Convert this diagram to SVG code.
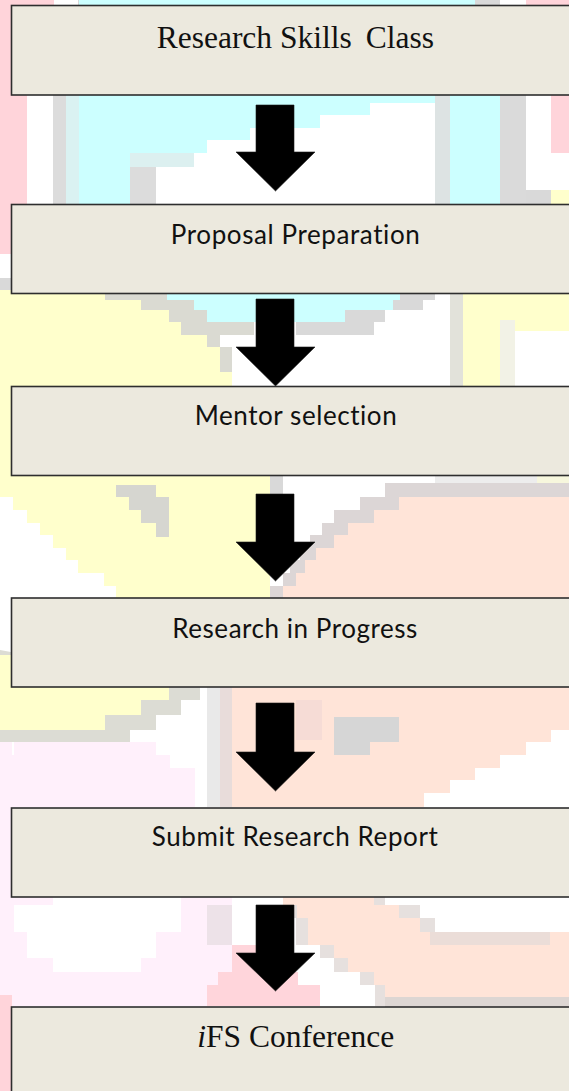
<svg xmlns="http://www.w3.org/2000/svg" width="569" height="1091" viewBox="0 0 569 1091">
<style>
.box{fill:#ECE9DE;stroke:#2E2E2E;stroke-width:1.6}
.sans{font-family:Lato,"Liberation Sans",sans-serif;font-size:26px;fill:#111;font-variant-ligatures:none}
.serif{font-family:"Liberation Serif","Times New Roman",serif;font-size:31.5px;fill:#111}
.arrow{fill:#000;stroke:#1a1a1a;stroke-width:0.6;stroke-linejoin:miter}
.pk{fill:#FFD4DA}.cy{fill:#CCFFFF}.ye{fill:#FFFFCC}.pe{fill:#FFE4D8}.lv{fill:#FFF0FB}.gr{fill:#D9D9D9}
</style>
<g id="background">
<rect width="569" height="1091" fill="#fff"/>
<path class="pk" d="M0 0H54V6H27V254H0Z"/>
<path class="pk" d="M526 0H569V153H551V6H526Z"/>
<rect class="gr" x="78" y="0" width="13" height="6"/>
<rect x="91" y="0" width="12" height="6" fill="#DDF6F6"/>
<path class="cy" d="M79 0H475V6H435V103H370V115H320V128H250V140H207V153H130V204H79Z"/>
<rect x="130" y="153" width="64" height="14" fill="#DCF0F0"/>
<rect x="130" y="167" width="26" height="37" fill="#DCDCDC"/>
<rect class="gr" x="475" y="0" width="25" height="6"/>
<rect x="53" y="95" width="13" height="109" fill="#DCDCDC"/>
<rect x="66" y="95" width="13" height="109" fill="#DAF2F2"/>
<rect x="435" y="95" width="15" height="109" fill="#DDE3E3"/>
<rect class="cy" x="450" y="95" width="50" height="109"/>
<rect x="500" y="95" width="26" height="109" fill="#DADADA"/>
<rect class="ye" x="551" y="190" width="18" height="14"/>
<rect class="gr" x="526" y="190" width="25" height="14"/>
<path d="M100 290H167V300H194V310H210V322H254V335H220V347H232V386H0Z" fill="#DADAD2"/>
<path class="gr" d="M399 290H435V300H423V310H385V322H374V335H296V322H345V310H393V300H399Z"/>
<path class="cy" d="M167 290H400V300H393V310H345V322H207V310H194V300H167Z"/>
<rect class="gr" x="0" y="278" width="12" height="12"/>
<path class="ye" d="M0 290H105V300H141V310H169V322H181V335H207V347H220V372H232V386H270V598H116V586H104V573H78V560H66V548H53V535H40V523H27V510H13V497H0Z"/>
<rect x="450" y="290" width="13" height="96" fill="#E2E2DA"/>
<rect class="ye" x="463" y="290" width="106" height="96"/>
<rect x="500" y="320" width="15" height="66" fill="#F2F2E6"/>
<rect x="515" y="331" width="54" height="55" fill="#fff"/>
<path d="M116 485H156V497H169V537H156V523H141V510H129V497H116Z" fill="#D6D6D0"/>
<rect class="gr" x="270" y="475" width="13" height="22"/>
<rect x="435" y="475" width="102" height="8" fill="#EDEDED"/>
<rect x="537" y="475" width="32" height="8" fill="#F7F7DD"/>
<path d="M385 483H569V497H399V510H374V523H348V535H334V548H316V560H305V573H296V586H283V598H270V586H283V573H290V560H300V548H310V535H322V523H334V510H360V497H385Z" fill="#DCD6D6"/>
<path class="pe" d="M399 497H569V598H283V586H296V573H305V560H316V548H334V535H348V523H374V510H399Z"/>
<path d="M0 650L200 687V700H181V715H156V730H130V742H0Z" fill="#DCDCD4"/>
<path class="ye" d="M0 655H12L169 687V700H141V715H105V730H0Z"/>
<rect class="lv" x="0" y="742" width="12" height="265"/>
<path class="lv" d="M14 742H156V755H170V768H195V807H0V755H14Z"/>
<rect x="207" y="687" width="13" height="120" fill="#E9E9E9"/>
<rect x="220" y="687" width="12" height="120" fill="#E8DCDA"/>
<path class="pe" d="M232 687H569V730H551V742H526V755H500V768H475V780H450V793H424V807H232Z"/>
<path d="M334 717H399V742H370V755H334Z" fill="#D6D6D6"/>
<rect x="296" y="700" width="26" height="40" fill="#F6DCD6"/>
<path class="lv" fill-rule="evenodd" d="M0 897H232V1006H0Z M53 897H181V932H156V958H141V972H53V958H27V932H14V905H53Z"/>
<rect x="207" y="905" width="25" height="40" fill="#EDE2E8"/>
<rect x="232" y="897" width="26" height="48" fill="#fff"/>
<path d="M232 945H258V972H298V985H320V1006H207V985H218V972H232Z" fill="#FFD5DB"/>
<path d="M283 897H385V905H420V918H435V932H569V1006H375V985H360V972H334V958H320V945H296V918H290V905H283Z" fill="#E6E0DE"/>
<path class="pe" d="M283 897H374V905H399V918H420V932H569V1006H385V985H374V972H348V958H334V945H308V918H297V905H283Z"/>
<rect x="430" y="932" width="120" height="13" fill="#EBDDD8"/>
<rect x="385" y="997" width="184" height="10" fill="#DDD6D3"/>
<rect class="pk" x="0" y="995" width="12" height="96"/>
</g>
<g id="connectors">
<path class="arrow" d="M256 105H294V152H315L275.5 191L236 152H256Z"/>
<path class="arrow" d="M256 299H294V347H315L275.5 386L236 347H256Z"/>
<path class="arrow" d="M256 494H294V542H315L275.5 581L236 542H256Z"/>
<path class="arrow" d="M256 703H294V752H315L275.5 791L236 752H256Z"/>
<path class="arrow" d="M256 905H294V953H315L275.5 991L236 953H256Z"/>
</g>
<g id="node1">
<rect class="box" x="11.5" y="5.5" width="580" height="89.5"/>
<text class="serif" x="295.3" y="48" text-anchor="middle">Research Skills<tspan dx="6"> Class</tspan></text>
</g>
<g id="node2">
<rect class="box" x="11.5" y="204.5" width="580" height="89"/>
<text class="sans" x="295.3" y="244" text-anchor="middle" textLength="249">Proposal Preparation</text>
</g>
<g id="node3">
<rect class="box" x="11.5" y="386.5" width="580" height="89"/>
<text class="sans" x="295.7" y="425" text-anchor="middle" textLength="202">Mentor selection</text>
</g>
<g id="node4">
<rect class="box" x="11.5" y="598" width="580" height="89"/>
<text class="sans" x="294.8" y="638" text-anchor="middle" textLength="245">Research in Progress</text>
</g>
<g id="node5">
<rect class="box" x="11.5" y="808" width="580" height="89"/>
<text class="sans" x="294.8" y="846" text-anchor="middle" textLength="286">Submit Research Report</text>
</g>
<g id="node6">
<rect class="box" x="11.5" y="1007" width="580" height="120"/>
<text class="serif" x="295.7" y="1047" text-anchor="middle"><tspan font-style="italic">i</tspan>FS Conference</text>
</g>
</svg>
